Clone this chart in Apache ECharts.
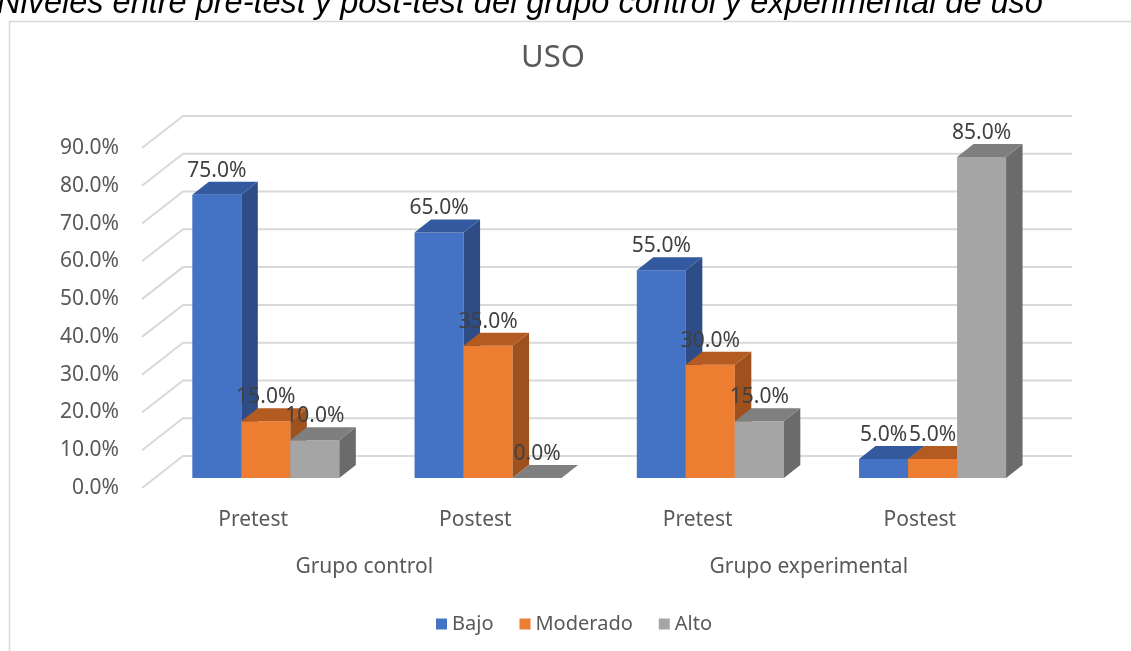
<!DOCTYPE html>
<html>
<head>
<meta charset="utf-8">
<script src="https://cdn.jsdelivr.net/npm/echarts@6/dist/echarts.min.js"></script>
<style>
  html, body { margin: 0; padding: 0; background: #fff; }
  #chart { width: 1131px; height: 651px; }
</style>
</head>
<body>
<div id="chart"></div>
<script>
// datos
const tests = ['Pretest', 'Postest', 'Pretest', 'Postest']
const groups = ['Grupo control', 'Grupo experimental']
const yTicks = [0, 0.1, 0.2, 0.3, 0.4, 0.5, 0.6, 0.7, 0.8, 0.9]
const bajo = [0.75, 0.65, 0.55, 0.05]
const moderado = [0.15, 0.35, 0.30, 0.05]
const alto = [0.10, 0.00, 0.15, 0.85]

const myChart = echarts.init(document.getElementById('chart'))

// desplazamientos de la vista 3D
const wallDx = 41, wallDy = -32
const planeDx = 12.7, planeDy = -10
const depthDx = 16.5, depthDy = -13

function bar3d(k, front, side, top) {
  return function (params, api) {
    const idx = api.value(0)
    const val = api.value(1)
    const p = api.coord([idx, val])
    const b = api.coord([idx, 0])
    const band = api.size([1, 0])[0]
    const w = band * 0.2205
    const x0 = p[0] - 1.5 * w + k * w + planeDx
    const x1 = x0 + w
    const yt = p[1] + planeDy
    const yb = b[1] + planeDy
    const children = []
    if (yb - yt > 0.5) {
      children.push({
        type: 'rect',
        shape: { x: x0, y: yt, width: w, height: yb - yt },
        style: { fill: front }
      })
      children.push({
        type: 'polygon',
        shape: { points: [[x1, yt], [x1 + depthDx, yt + depthDy], [x1 + depthDx, yb + depthDy], [x1, yb]] },
        style: { fill: side }
      })
    }
    children.push({
      type: 'polygon',
      shape: { points: [[x0, yt], [x0 + depthDx, yt + depthDy], [x1 + depthDx, yt + depthDy], [x1, yt]] },
      style: { fill: top }
    })
    children.push({
      type: 'text',
      z2: 10,
      style: {
        x: x0 + w / 2,
        y: yt - 24,
        text: (val * 100).toFixed(1) + '%',
        align: 'center',
        verticalAlign: 'middle',
        fill: '#404040',
        font: '21px "Noto Sans"'
      }
    })
    return { type: 'group', children: children }
  }
}

function wallLines(params, api) {
  const cs = params.coordSys
  const y = api.coord([0, api.value(1)])[1]
  return {
    type: 'polyline',
    shape: { points: [[cs.x, y], [cs.x + wallDx, y + wallDy], [cs.x + cs.width + wallDx, y + wallDy]] },
    style: { stroke: '#D9D9D9', lineWidth: 2, fill: null }
  }
}

const labelStyle = { color: '#595959', fontSize: 21, fontFamily: 'Noto Sans' }

const option = {
  backgroundColor: '#fff',
  animation: false,
  title: {
    text: 'USO',
    left: 548,
    top: 38,
    textAlign: 'center',
    textStyle: { color: '#595959', fontSize: 31, fontWeight: 'normal', fontFamily: 'Noto Sans' }
  },
  graphic: [
    {
      type: 'rect',
      shape: { x: 9.5, y: 21.5, width: 1200, height: 700 },
      style: { fill: null, stroke: '#D9D9D9', lineWidth: 1.5 },
      silent: true
    },
    {
      type: 'text',
      left: -3,
      top: -13,
      style: {
        text: 'Niveles entre pre-test y post-test del grupo control y experimental de uso',
        font: 'italic 32.5px "Liberation Sans"',
        fill: '#000'
      }
    }
  ],
  legend: {
    data: ['Bajo', 'Moderado', 'Alto'],
    left: 431,
    top: 609,
    icon: 'rect',
    itemWidth: 11,
    itemHeight: 11,
    itemGap: 26,
    textStyle: { color: '#595959', fontSize: 20, fontFamily: 'Noto Sans' }
  },
  grid: { left: 142, right: 100, top: 148, bottom: 163 },
  xAxis: [
    {
      type: 'category',
      data: tests,
      axisLine: { show: false },
      axisTick: { show: false },
      axisLabel: Object.assign({ margin: 22 }, labelStyle)
    },
    {
      type: 'category',
      data: groups,
      position: 'bottom',
      offset: 47,
      axisLine: { show: false },
      axisTick: { show: false },
      axisLabel: Object.assign({ margin: 22 }, labelStyle)
    }
  ],
  yAxis: {
    type: 'value',
    min: 0,
    max: 0.9,
    interval: 0.1,
    axisLine: { show: false },
    axisTick: { show: false },
    splitLine: { show: false },
    axisLabel: Object.assign({
      margin: 23,
      formatter: function (v) { return (v * 100).toFixed(1) + '%' }
    }, labelStyle)
  },
  series: [
    {
      type: 'custom',
      name: 'wall',
      silent: true,
      renderItem: wallLines,
      data: yTicks.map(v => [0, v]),
      z: 1
    },
    {
      type: 'custom',
      name: 'Bajo',
      itemStyle: { color: '#4472C4' },
      renderItem: bar3d(0, '#4472C4', '#2E4C85', '#335A9E'),
      data: bajo.map((v, i) => [i, v]),
      z: 2
    },
    {
      type: 'custom',
      name: 'Moderado',
      itemStyle: { color: '#ED7D31' },
      renderItem: bar3d(1, '#ED7D31', '#9E501D', '#B45B22'),
      data: moderado.map((v, i) => [i, v]),
      z: 3
    },
    {
      type: 'custom',
      name: 'Alto',
      itemStyle: { color: '#A5A5A5' },
      renderItem: bar3d(2, '#A5A5A5', '#6B6B6B', '#7F7F7F'),
      data: alto.map((v, i) => [i, v]),
      z: 4
    }
  ]
}
myChart.setOption(option)
</script>
</body>
</html>
